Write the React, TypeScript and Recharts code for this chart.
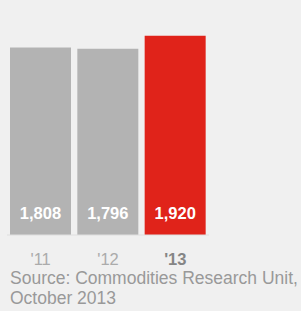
import React from 'react';
import { BarChart, Bar, XAxis, YAxis, Cell, LabelList } from 'recharts';

const years = ["'11", "'12", "'13"];
const values = [1808, 1796, 1920];
const barColors = ['#b3b3b3', '#b3b3b3', '#e0231a'];
const highlightYear = "'13";

const data = years.map((year, i) => ({ year, value: values[i] }));

const FONT = '"Liberation Sans", Arial, Helvetica, sans-serif';

const YearTick = (props: any) => {
  const { x, y, payload } = props;
  const bold = payload.value === highlightYear;
  return (
    <text
      x={x}
      y={y}
      dy="0.71em"
      textAnchor="middle"
      fontFamily={FONT}
      fontSize={16.5}
      fontWeight={bold ? 700 : 400}
      fill={bold ? '#858585' : '#ababab'}
    >
      {payload.value}
    </text>
  );
};

const ValueLabel = (props: any) => {
  const { x, y, width, height, value } = props;
  return (
    <text
      x={x + width / 2}
      y={y + height - 16}
      textAnchor="middle"
      fontFamily={FONT}
      fontSize={16.5}
      fontWeight={700}
      fill="#ffffff"
    >
      {value.toLocaleString('en-US')}
    </text>
  );
};

export default function App() {
  return (
    <div
      style={{
        position: 'fixed',
        top: 0,
        left: 0,
        width: 301,
        height: 311,
        background: '#f0f0f0',
        overflow: 'hidden',
      }}
    >
      <BarChart
        width={301}
        height={311}
        data={data}
        margin={{ top: 27.5, right: 92, left: 7, bottom: 46 }}
      >
        <YAxis hide domain={[0, 2000]} />
        <XAxis
          dataKey="year"
          height={30}
          tickLine={false}
          axisLine={{ stroke: '#dedede' }}
          tickSize={0}
          tickMargin={18.5}
          tick={<YearTick />}
          interval={0}
        />
        <Bar dataKey="value" barSize={61} isAnimationActive={false}>
          {data.map((d, i) => (
            <Cell key={d.year} fill={barColors[i]} />
          ))}
          <LabelList dataKey="value" content={<ValueLabel />} />
        </Bar>
      </BarChart>
      <div
        style={{
          position: 'absolute',
          top: 268,
          left: 10,
          width: 300,
          fontFamily: FONT,
          fontSize: 17.5,
          lineHeight: '20px',
          color: '#999999',
          whiteSpace: 'nowrap',
        }}
      >
        Source: Commodities Research Unit,
        <br />
        October 2013
      </div>
    </div>
  );
}
